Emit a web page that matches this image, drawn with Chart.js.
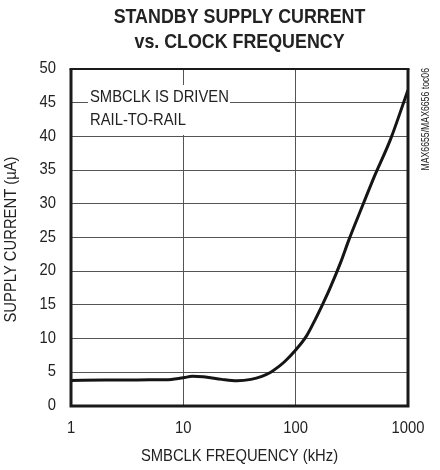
<!DOCTYPE html>
<html>
<head>
<meta charset="utf-8">
<script src="https://cdn.jsdelivr.net/npm/chart.js@4.4.0/dist/chart.umd.min.js"></script>
<style>
    html, body { margin: 0; padding: 0; background: #ffffff; }
    #wrap { width: 440px; height: 470px; }
</style>
</head>
<body>
<div id="wrap"><canvas id="currentChart" width="440" height="470"></canvas></div>
<script>
// data
const frequencies = [1, 2, 3, 5, 7, 10, 12, 15, 18, 22, 30, 40, 50, 60, 70, 80, 100, 125, 150, 175, 200, 250, 300, 400, 500, 700, 1000];
const supplyCurrent = [3.8, 3.85, 3.85, 3.9, 3.9, 4.2, 4.4, 4.35, 4.15, 3.95, 3.75, 3.95, 4.4, 5.0, 5.8, 6.6, 8.3, 10.4, 12.9, 15.2, 17.3, 21.2, 24.8, 30.0, 34.0, 39.6, 46.9];
const xTicks = [1, 10, 100, 1000];
const yTicks = [0, 5, 10, 15, 20, 25, 30, 35, 40, 45, 50];

const titleLines = ['STANDBY SUPPLY CURRENT', 'vs. CLOCK FREQUENCY'];
const xTitle = 'SMBCLK FREQUENCY (kHz)';
const yTitle = 'SUPPLY CURRENT (µA)';
const noteLines = ['SMBCLK IS DRIVEN', 'RAIL-TO-RAIL'];
const sideNote = 'MAX6655/MAX6656 toc06';

const FONT = '"Liberation Sans", Arial, sans-serif';
const INK = '#222222';
const SQUEEZE = 0.87;   // reference uses a narrow face, so squeeze the text horizontally

// 좁은 글꼴처럼 글자 그리기
function narrowText(ctx, text, x, y, align, baseline, angle) {
    ctx.save();
    ctx.translate(x, y);
    if (angle) ctx.rotate(angle);
    ctx.scale(SQUEEZE, 1);
    ctx.textAlign = align;
    ctx.textBaseline = baseline;
    ctx.fillText(text, 0, 0);
    ctx.restore();
}

const extrasPlugin = {
    id: 'extras',
    beforeDatasetsDraw(chart) {
        const {ctx, chartArea} = chart;
        ctx.save();
        // white box behind the note (gridlines are cut there)
        ctx.fillStyle = '#ffffff';
        ctx.fillRect(chartArea.left + 17, chartArea.top + 16, 142, 50);
        ctx.fillStyle = INK;
        ctx.font = '17px ' + FONT;
        narrowText(ctx, noteLines[0], chartArea.left + 19, chartArea.top + 33, 'left', 'alphabetic');
        narrowText(ctx, noteLines[1], chartArea.left + 19, chartArea.top + 56, 'left', 'alphabetic');
        ctx.restore();
    },
    afterDatasetsDraw(chart) {
        const {ctx, chartArea, scales} = chart;
        const midX = (chartArea.left + chartArea.right) / 2;
        const midY = (chartArea.top + chartArea.bottom) / 2;
        ctx.save();

        // frame
        ctx.strokeStyle = '#1a1a1a';
        ctx.lineWidth = 3;
        ctx.beginPath();
        ctx.moveTo(chartArea.left, chartArea.top);
        ctx.lineTo(chartArea.left, chartArea.bottom);
        ctx.lineTo(chartArea.right, chartArea.bottom);
        ctx.lineTo(chartArea.right, chartArea.top);
        ctx.stroke();
        ctx.lineWidth = 2;
        ctx.beginPath();
        ctx.moveTo(chartArea.left - 1.5, chartArea.top);
        ctx.lineTo(chartArea.right + 1.5, chartArea.top);
        ctx.stroke();

        ctx.fillStyle = INK;

        // title
        ctx.font = 'bold 20.5px ' + FONT;
        narrowText(ctx, titleLines[0], midX, chartArea.top - 46, 'center', 'alphabetic');
        narrowText(ctx, titleLines[1], midX, chartArea.top - 21, 'center', 'alphabetic');

        // tick labels from the scales
        ctx.font = '17px ' + FONT;
        yTicks.forEach(v => {
            narrowText(ctx, String(v), chartArea.left - 15, scales.y.getPixelForValue(v) - 0.5, 'right', 'middle');
        });
        xTicks.forEach(v => {
            narrowText(ctx, String(v), scales.x.getPixelForValue(v), chartArea.bottom + 27, 'center', 'alphabetic');
        });

        // axis titles
        narrowText(ctx, xTitle, midX, chartArea.bottom + 55, 'center', 'alphabetic');
        narrowText(ctx, yTitle, 16, midY + 2, 'center', 'alphabetic', -Math.PI / 2);

        // rotated part number at the right
        ctx.font = '10px ' + FONT;
        narrowText(ctx, sideNote, chartArea.right + 18, chartArea.top - 1, 'right', 'middle', -Math.PI / 2);

        ctx.restore();
    }
};

const ctx = document.getElementById('currentChart').getContext('2d');
const currentChart = new Chart(ctx, {
    type: 'line',
    data: {
        datasets: [{
            label: 'Supply current',
            data: frequencies.map((f, i) => ({x: f, y: supplyCurrent[i]})),
            borderColor: '#151515',
            borderWidth: 3,
            pointRadius: 0,
            cubicInterpolationMode: 'monotone',
            fill: false
        }]
    },
    options: {
        responsive: false,
        animation: false,
        layout: {
            padding: {left: 0, right: 32, top: 69, bottom: 0}
        },
        plugins: {
            legend: {display: false},
            tooltip: {enabled: false},
            title: {display: false}
        },
        scales: {
            x: {
                type: 'logarithmic',
                min: 1,
                max: 1000,
                afterBuildTicks: (scale) => {
                    scale.ticks = xTicks.map(v => ({value: v}));
                },
                afterFit: (scale) => { scale.height = 64; },
                ticks: {display: false},
                grid: {color: '#555555', lineWidth: 1, drawTicks: false},
                border: {display: false}
            },
            y: {
                min: 0,
                max: 50,
                afterBuildTicks: (scale) => {
                    scale.ticks = yTicks.map(v => ({value: v}));
                },
                afterFit: (scale) => { scale.width = 71; },
                ticks: {display: false},
                grid: {color: '#555555', lineWidth: 1, drawTicks: false},
                border: {display: false}
            }
        }
    },
    plugins: [extrasPlugin]
});
</script>
</body>
</html>
